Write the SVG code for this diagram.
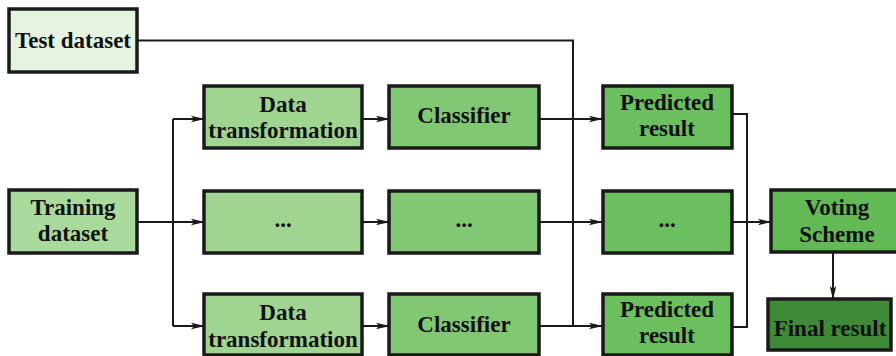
<svg xmlns="http://www.w3.org/2000/svg" width="896" height="356" viewBox="0 0 896 356">
  <defs>
    <marker id="arrow" markerWidth="14" markerHeight="8" refX="13" refY="4" orient="auto" markerUnits="userSpaceOnUse">
      <path d="M0,0.8 L14,4 L0,7.2 L3,4 Z" fill="#1a1a1a"/>
    </marker>
    <style>
      .box { stroke: #1a1a1a; stroke-width: 3.5; }
      .lbl { font-family: "Liberation Serif", "Times New Roman", serif; font-weight: bold; font-size: 23px; fill: #111; text-anchor: middle; }
      .wire { fill: none; stroke: #1a1a1a; stroke-width: 2; }
      .test { fill: #e5f3e0; }
      .train { fill: #a9da9c; }
      .xform { fill: #a0d491; }
      .clf { fill: #82c874; }
      .pred { fill: #6cbf5f; }
      .vote { fill: #62b955; }
      .final { fill: #3f8a37; }
    </style>
  </defs>

  <rect width="896" height="356" fill="#ffffff"/>

  <!-- connectors -->
  <g id="connectors">
    <!-- test data bypasses training into the prediction stage -->
    <path class="wire" d="M137,40.5 H573 V326"/>
    <!-- training data fans out to each transformation -->
    <path class="wire" d="M137,222 H173"/>
    <path class="wire" d="M173,119 V326"/>
    <path class="wire" marker-end="url(#arrow)" d="M173,119 H204"/>
    <path class="wire" marker-end="url(#arrow)" d="M173,222 H204"/>
    <path class="wire" marker-end="url(#arrow)" d="M173,326 H204"/>
    <!-- transformation to classifier -->
    <path class="wire" marker-end="url(#arrow)" d="M362,119 H389"/>
    <path class="wire" marker-end="url(#arrow)" d="M362,222 H389"/>
    <path class="wire" marker-end="url(#arrow)" d="M362,326 H389"/>
    <!-- classifier to predicted result -->
    <path class="wire" marker-end="url(#arrow)" d="M539,119 H602"/>
    <path class="wire" marker-end="url(#arrow)" d="M539,222 H602"/>
    <path class="wire" marker-end="url(#arrow)" d="M539,326 H602"/>
    <!-- predicted results gathered for voting -->
    <path class="wire" d="M732,114 H747 V327 H732"/>
    <path class="wire" marker-end="url(#arrow)" d="M732,222 H771"/>
    <!-- voting to final result -->
    <path class="wire" marker-end="url(#arrow)" d="M833,252 V299"/>
  </g>

  <g id="test-dataset">
    <rect class="box test" x="9" y="9" width="128" height="63"/>
    <text class="lbl" x="73" y="48">Test dataset</text>
  </g>

  <g id="training-dataset">
    <rect class="box train" x="9" y="190" width="128" height="63"/>
    <text class="lbl" x="73" y="215">Training</text>
    <text class="lbl" x="73" y="241">dataset</text>
  </g>

  <g id="transform-1">
    <rect class="box xform" x="204" y="86" width="158" height="62"/>
    <text class="lbl" x="283" y="112">Data</text>
    <text class="lbl" x="283" y="138">transformation</text>
  </g>
  <g id="transform-2">
    <rect class="box xform" x="204" y="191" width="158" height="62"/>
    <text class="lbl" x="283" y="227">...</text>
  </g>
  <g id="transform-3">
    <rect class="box xform" x="204" y="294" width="158" height="61"/>
    <text class="lbl" x="283" y="320">Data</text>
    <text class="lbl" x="283" y="347">transformation</text>
  </g>

  <g id="classifier-1">
    <rect class="box clf" x="389" y="86" width="150" height="62"/>
    <text class="lbl" x="464" y="123">Classifier</text>
  </g>
  <g id="classifier-2">
    <rect class="box clf" x="389" y="191" width="150" height="62"/>
    <text class="lbl" x="464" y="227">...</text>
  </g>
  <g id="classifier-3">
    <rect class="box clf" x="389" y="294" width="150" height="61"/>
    <text class="lbl" x="464" y="332">Classifier</text>
  </g>

  <g id="predicted-1">
    <rect class="box pred" x="603" y="86" width="129" height="62"/>
    <text class="lbl" x="667" y="110">Predicted</text>
    <text class="lbl" x="667" y="136">result</text>
  </g>
  <g id="predicted-2">
    <rect class="box pred" x="603" y="191" width="129" height="62"/>
    <text class="lbl" x="667" y="227">...</text>
  </g>
  <g id="predicted-3">
    <rect class="box pred" x="603" y="294" width="129" height="61"/>
    <text class="lbl" x="667" y="317">Predicted</text>
    <text class="lbl" x="667" y="343">result</text>
  </g>

  <g id="voting-scheme">
    <rect class="box vote" x="771" y="190" width="132" height="62"/>
    <text class="lbl" x="837" y="215">Voting</text>
    <text class="lbl" x="837" y="242">Scheme</text>
  </g>

  <g id="final-result">
    <rect class="box final" x="768" y="299" width="123" height="51"/>
    <text class="lbl" x="830" y="336">Final result</text>
  </g>
</svg>
